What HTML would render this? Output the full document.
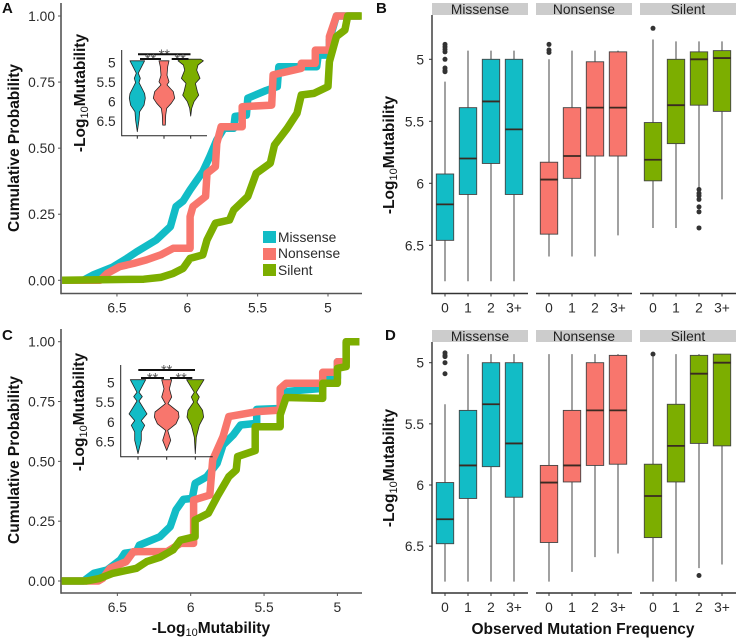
<!DOCTYPE html>
<html lang="en">
<head>
<meta charset="utf-8">
<title>Mutability charts</title>
<style>
html,body{margin:0;padding:0;background:#fff;width:738px;height:639px;overflow:hidden}
svg{display:block;font-family:"Liberation Sans",sans-serif}
.tick{font-size:13.8px;fill:#2b2b2b}
.title{font-size:15.5px;font-weight:bold;fill:#111}
.sub{font-size:11px;font-weight:normal}
.strip{font-size:13.8px;fill:#222;text-anchor:middle}
.plabel{font-size:15px;font-weight:bold;fill:#111}
</style>
</head>
<body>
<svg id="fig" width="738" height="639" viewBox="0 0 738 639" xmlns="http://www.w3.org/2000/svg">
<text class="plabel" x="2" y="13">A</text>
<text class="plabel" x="376" y="13">B</text>
<text class="plabel" x="2" y="340">C</text>
<text class="plabel" x="385" y="340">D</text>

<text class="title" transform="translate(19,148) rotate(-90)" text-anchor="middle">Cumulative Probability</text>
<text class="title" transform="translate(19,460) rotate(-90)" text-anchor="middle">Cumulative Probability</text>
<text class="title" transform="translate(85,93) rotate(-90)" text-anchor="middle">-Log<tspan class="sub" dy="3">10</tspan><tspan dy="-3">Mutability</tspan></text>
<text class="title" transform="translate(84,412) rotate(-90)" text-anchor="middle">-Log<tspan class="sub" dy="3">10</tspan><tspan dy="-3">Mutability</tspan></text>
<text class="title" transform="translate(394,155) rotate(-90)" text-anchor="middle">-Log<tspan class="sub" dy="3">10</tspan><tspan dy="-3">Mutability</tspan></text>
<text class="title" transform="translate(394,468) rotate(-90)" text-anchor="middle">-Log<tspan class="sub" dy="3">10</tspan><tspan dy="-3">Mutability</tspan></text>
<text class="title" x="211" y="633" text-anchor="middle">-Log<tspan class="sub" dy="3">10</tspan><tspan dy="-3">Mutability</tspan></text>
<text class="title" x="583" y="634" text-anchor="middle">Observed Mutation Frequency</text>

<rect x="263" y="231" width="13" height="12" fill="#12BCC6"/>
<rect x="263" y="248" width="13" height="12" fill="#F8766D"/>
<rect x="263" y="264" width="13" height="12" fill="#7CAE00"/>
<text class="tick" x="278" y="242">Missense</text>
<text class="tick" x="278" y="258">Nonsense</text>
<text class="tick" x="278" y="275">Silent</text>
</svg>
<script>
// ---- categorical labels and ticks
var seriesNames = ['Missense', 'Nonsense', 'Silent'];
var boxCategories = ['0', '1', '2', '3+'];
var probTicks = ['0.00', '0.25', '0.50', '0.75', '1.00'];
var mutTicks = ['6.5', '6', '5.5', '5'];
var boxTicks = ['5', '5.5', '6', '6.5'];
var insetTicks = ['5', '5.5', '6', '6.5'];

// ---- Panel A cumulative curves
var aMissenseX = [6.89,6.74,6.67,6.53,6.43,6.36,6.22,6.12,6.08,6.03,5.98,5.89,5.84,5.79,5.74,5.67,5.66,5.58,5.57,5.44,5.36,5.35,5.08,5.07,4.99,4.99,4.94,4.77];
var aMissenseP = [0,0,.02,.05,.083,.108,.153,.203,.279,.30,.342,.411,.468,.531,.575,.575,.62,.625,.689,.718,.733,.808,.808,.852,.852,.909,1,1];
var aNonsenseX = [6.89,6.62,6.57,6.48,6.38,6.29,6.19,6.10,5.98,5.98,5.96,5.87,5.86,5.80,5.79,5.76,5.61,5.61,5.40,5.39,5.19,5.19,5.09,5.09,4.99,4.99,4.94,4.77];
var aNonsenseP = [0,0,.026,.052,.064,.077,.096,.121,.121,.241,.279,.317,.405,.43,.518,.581,.581,.657,.663,.777,.802,.821,.821,.871,.871,.922,1,1];
var aSilentX = [6.89,6.31,6.19,6.10,6.03,5.98,5.89,5.86,5.80,5.70,5.67,5.57,5.51,5.41,5.38,5.29,5.22,5.19,5.10,5.00,4.99,4.94,4.88,4.86,4.76];
var aSilentP = [0,.004,.011,.026,.045,.083,.096,.153,.216,.228,.266,.317,.405,.443,.512,.575,.632,.701,.707,.733,.827,.922,.947,1,1];

// ---- Panel C cumulative curves
var cMissenseX = [6.88,6.73,6.66,6.57,6.48,6.45,6.37,6.35,6.21,6.14,6.10,6.05,5.99,5.97,5.89,5.82,5.78,5.71,5.66,5.55,5.55,5.39,5.37,5.10,5.10,5.00,5.00,4.94,4.94,4.85];
var cMissenseP = [0,0,.032,.046,.088,.116,.123,.150,.185,.227,.297,.341,.345,.408,.436,.492,.568,.61,.652,.659,.717,.721,.791,.805,.84,.847,.916,.916,1,1];
var cNonsenseX = [6.88,6.63,6.60,6.55,6.44,6.39,6.16,6.07,5.98,5.98,5.87,5.85,5.78,5.74,5.55,5.39,5.39,5.35,5.10,5.10,5.00,5.00,4.94,4.94,4.85];
var cNonsenseP = [0,0,.011,.053,.081,.123,.123,.157,.157,.338,.359,.506,.603,.687,.708,.714,.805,.826,.826,.872,.872,.916,.916,1,1];
var cSilentX = [6.88,6.71,6.62,6.53,6.37,6.30,6.21,6.12,6.07,5.97,5.97,5.88,5.82,5.74,5.69,5.68,5.56,5.56,5.39,5.39,5.35,5.10,5.10,5.00,5.00,4.94,4.94,4.85];
var cSilentP = [0,0,.011,.032,.053,.081,.099,.130,.171,.185,.255,.283,.352,.436,.464,.520,.545,.645,.645,.694,.767,.763,.826,.826,.889,.896,1,1];

// ---- Panel A inset violins
var vaMissenseY = [4.95,5.27,5.40,5.51,5.79,5.91,6.09,6.26,6.47,6.77];
var vaMissenseD = [.22,.03,.09,.05,.22,.24,.20,.07,.05,0];
var vaNonsenseY = [4.95,5.10,5.32,5.49,5.57,5.74,5.91,6.04,6.17,6.34,6.60];
var vaNonsenseD = [.15,.11,.09,.15,.09,.28,.32,.22,.08,.05,.04];
var vaSilentY = [4.91,4.95,5.06,5.19,5.40,5.53,5.74,5.83,6.00,6.17,6.37];
var vaSilentD = [.30,.38,.22,.18,.28,.14,.20,.24,.10,.03,0];

// ---- Panel C inset violins
var vcMissenseY = [4.93,5.25,5.36,5.47,5.80,5.97,6.09,6.26,6.47,6.81];
var vcMissenseD = [.23,.03,.13,.03,.27,.10,.20,.10,.10,0];
var vcNonsenseY = [4.93,5.16,5.37,5.54,5.75,5.88,6.05,6.22,6.47,6.73];
var vcNonsenseD = [.15,.08,.15,.04,.35,.37,.28,.03,.12,0];
var vcSilentY = [4.93,5.25,5.37,5.50,5.71,5.88,6.09,6.39,6.81];
var vcSilentD = [.26,.03,.12,.05,.22,.25,.12,.03,0];

// ---- Panel B boxes (one entry per frequency category 0,1,2,3+)
var bMissenseBoxTop = [5.925,5.39,5,5];
var bMissenseMedian = [6.17,5.80,5.34,5.565];
var bMissenseBoxBottom = [6.46,6.09,5.84,6.09];
var bMissenseWhiskerTop = [5.18,4.93,4.93,4.93];
var bMissenseWhiskerBottom = [6.79,6.79,6.79,6.79];
var bMissenseOutliers = [[4.88,4.90,4.92,4.94,5,5.07,5.09,5.10],[],[],[]];
var bNonsenseBoxTop = [5.83,5.39,5.02,4.94];
var bNonsenseMedian = [5.97,5.78,5.39,5.39];
var bNonsenseBoxBottom = [6.41,5.96,5.78,5.78];
var bNonsenseWhiskerTop = [5,4.93,4.93,4.93];
var bNonsenseWhiskerBottom = [6.59,6.59,6.59,6.42];
var bNonsenseOutliers = [[4.88,4.925,4.945],[],[],[]];
var bSilentBoxTop = [5.51,5,4.94,4.93];
var bSilentMedian = [5.81,5.37,5,4.99];
var bSilentBoxBottom = [5.98,5.68,5.37,5.42];
var bSilentWhiskerTop = [4.84,4.855,4.855,4.855];
var bSilentWhiskerBottom = [6.36,6.36,6.04,6.13];
var bSilentOutliers = [[4.75],[],[6.05,6.08,6.10,6.13,6.19,6.23,6.36],[]];

// ---- Panel D boxes
var dMissenseBoxTop = [5.98,5.39,5,5];
var dMissenseMedian = [6.28,5.84,5.34,5.66];
var dMissenseBoxBottom = [6.48,6.11,5.85,6.10];
var dMissenseWhiskerTop = [5.34,4.93,4.93,4.93];
var dMissenseWhiskerBottom = [6.79,6.79,6.79,6.79];
var dMissenseOutliers = [[4.92,4.94,4.95,5,5.09],[],[],[]];
var dNonsenseBoxTop = [5.84,5.39,5,4.94];
var dNonsenseMedian = [5.98,5.84,5.39,5.39];
var dNonsenseBoxBottom = [6.47,5.975,5.84,5.83];
var dNonsenseWhiskerTop = [4.93,4.93,4.93,4.93];
var dNonsenseWhiskerBottom = [6.79,6.71,6.59,6.56];
var dNonsenseOutliers = [[],[],[],[]];
var dSilentBoxTop = [5.83,5.34,4.94,4.93];
var dSilentMedian = [6.09,5.68,5.09,5];
var dSilentBoxBottom = [6.43,5.975,5.66,5.68];
var dSilentWhiskerTop = [4.95,4.93,4.93,4.93];
var dSilentWhiskerBottom = [6.79,6.79,6.68,6.65];
var dSilentOutliers = [[4.93],[],[6.74],[]];

var COLORS = ['#12BCC6', '#F8766D', '#7CAE00'];
var AXIS = '#555555';
var svg = document.getElementById('fig');
var NS = 'http://www.w3.org/2000/svg';

function mk(tag, props, text) {
  var el = document.createElementNS(NS, tag);
  for (var k in props) el.setAttribute(k, props[k]);
  if (text !== undefined) el.textContent = text;
  svg.appendChild(el);
  return el;
}
function line(x1, y1, x2, y2, color, w, name) {
  var el = mk('line', {x1: x1, y1: y1, x2: x2, y2: y2, stroke: color, 'stroke-width': w});
  
  
  return el;
}
function label(x, y, anchor, str, name) {
  var el = mk('text', {x: x, y: y, 'text-anchor': anchor, 'class': 'tick'}, str);
  
  
  return el;
}

function drawEcdf(cfg) {
  var xs = function (v) { return cfg.x6 - (v - 6) * cfg.xUnit; };
  var ys = function (p) { return cfg.y0 - p * (cfg.y0 - cfg.y1); };
  line(cfg.left, cfg.top, cfg.left, cfg.bottom + 0.75, AXIS, 1.6, cfg.id + '-y-axis-line');
  line(cfg.left, cfg.bottom, cfg.right, cfg.bottom, AXIS, 1.6, cfg.id + '-x-axis-line');
  probTicks.forEach(function (t) {
    var y = ys(parseFloat(t));
    line(cfg.left - 3, y, cfg.left, y, AXIS, 1, cfg.id + '-y-tick-mark');
    label(cfg.left - 6, y + 5, 'end', t, cfg.id + '-y-tick-label');
  });
  mutTicks.forEach(function (t) {
    var x = xs(parseFloat(t));
    line(x, cfg.bottom, x, cfg.bottom + 3, AXIS, 1, cfg.id + '-x-tick-mark');
    label(x, cfg.bottom + 19, 'middle', t, cfg.id + '-x-tick-label');
  });
  cfg.series.forEach(function (s, i) {
    var pts = s[0].map(function (v, j) { return xs(v).toFixed(1) + ',' + ys(s[1][j]).toFixed(1); }).join(' ');
    var el = mk('polyline', {points: pts, fill: 'none', stroke: COLORS[i], 'stroke-width': 7.5, 'stroke-linejoin': 'round'});
    
    
  });
}

function drawViolins(cfg) {
  var ys = function (v) { return cfg.y5 + (v - 5) * cfg.yUnit; };
  line(cfg.left, cfg.top, cfg.left, cfg.bottom + 0.5, '#222', 1, cfg.id + '-y-axis-line');
  line(cfg.left, cfg.bottom, cfg.right, cfg.bottom, '#222', 1, cfg.id + '-x-axis-line');
  insetTicks.forEach(function (t) {
    label(cfg.left - 6, ys(parseFloat(t)) + 5, 'end', t, cfg.id + '-y-tick-label');
  });
  cfg.series.forEach(function (s, i) {
    var cx = cfg.centers[i];
    line(cx, cfg.bottom, cx, cfg.bottom + 3, '#222', 1, cfg.id + '-x-tick-mark');
    var right = s[0].map(function (v, j) { return (cx + s[1][j] * 33.3).toFixed(1) + ',' + ys(v).toFixed(1); });
    var left = s[0].map(function (v, j) { return (cx - s[1][j] * 33.3).toFixed(1) + ',' + ys(v).toFixed(1); }).reverse();
    var el = mk('polygon', {points: right.concat(left).join(' '), fill: COLORS[i], stroke: '#222', 'stroke-width': 0.8, 'stroke-linejoin': 'round'});
    
    
  });
  cfg.bars.forEach(function (b, i) {
    var st = mk('text', {x: (b[0] + b[1]) / 2, y: b[2] + 5, 'text-anchor': 'middle', 'font-size': 14.5, fill: '#555'}, '**');
    
    
    line(b[0], b[2], b[1], b[2], '#111', 2, cfg.id + '-significance-bar-' + i);
  });
}

function drawBoxes(cfg) {
  var ys = function (v) { return cfg.y5 + (v - 5) * cfg.yUnit; };
  var half = 8.7;
  line(432, cfg.stripBottom, 432, cfg.bottom + 0.75, '#333', 1.4, cfg.id + '-y-axis-line');
  boxTicks.forEach(function (t) {
    var y = ys(parseFloat(t));
    line(429, y, 432, y, '#333', 1, cfg.id + '-y-tick-mark');
    label(424, y + 5, 'end', t, cfg.id + '-y-tick-label');
  });
  cfg.facets.forEach(function (f, i) {
    var nm = seriesNames[i].toLowerCase();
    var sx = cfg.stripX[i];
    var strip = mk('rect', {x: sx, y: cfg.stripTop, width: 96, height: cfg.stripBottom - cfg.stripTop, fill: '#CCCCCC'});
    
    
    var stripText = mk('text', {x: sx + 48, y: cfg.stripBottom - 1, 'class': 'strip'}, seriesNames[i]);
    
    
    line(sx, cfg.bottom, sx + 96, cfg.bottom, '#333', 1.4, cfg.id + '-x-axis-line-' + nm);
    boxCategories.forEach(function (c, j) {
      var cx = sx + 13 + j * 23;
      line(cx, cfg.bottom, cx, cfg.bottom + 3, '#333', 1, cfg.id + '-x-tick-mark');
      label(cx, cfg.bottom + 19, 'middle', c, cfg.id + '-x-tick-label');
      line(cx, ys(f.whiskerTop[j]), cx, ys(f.whiskerBottom[j]), '#555', 1.1, cfg.id + '-whisker-' + nm + '-' + j);
      var box = mk('rect', {x: cx - half, y: ys(f.boxTop[j]), width: half * 2, height: ys(f.boxBottom[j]) - ys(f.boxTop[j]), fill: COLORS[i], stroke: '#444', 'stroke-width': 0.9});
      
      
      line(cx - half, ys(f.median[j]), cx + half, ys(f.median[j]), '#3a2a22', 1.8, cfg.id + '-median-' + nm + '-' + j);
      f.outliers[j].forEach(function (o) {
        var pt = mk('circle', {cx: cx, cy: ys(o), r: 2.5, fill: '#333'});
        
        
      });
    });
  });
}

drawEcdf({id: 'panel-a', left: 61, right: 362, top: 3, bottom: 293.5, x6: 187.3, xUnit: 140.7, y0: 280.3, y1: 16,
  series: [[aMissenseX, aMissenseP], [aNonsenseX, aNonsenseP], [aSilentX, aSilentP]]});
drawEcdf({id: 'panel-c', left: 61, right: 362, top: 329, bottom: 593, x6: 190.7, xUnit: 146.7, y0: 581, y1: 341.7,
  series: [[cMissenseX, cMissenseP], [cNonsenseX, cNonsenseP], [cSilentX, cSilentP]]});

drawViolins({id: 'inset-a', left: 121.7, right: 207, top: 50, bottom: 135.7, y5: 62.7, yUnit: 39, centers: [137.3, 164, 190.7],
  series: [[vaMissenseY, vaMissenseD], [vaNonsenseY, vaNonsenseD], [vaSilentY, vaSilentD]],
  bars: [[138, 190.5, 54.3], [140, 161, 59], [171.7, 188.5, 59]]});
drawViolins({id: 'inset-c', left: 120.7, right: 212.7, top: 365, bottom: 456.7, y5: 382.5, yUnit: 39.3, centers: [138, 166.7, 195.3],
  series: [[vcMissenseY, vcMissenseD], [vcNonsenseY, vcNonsenseD], [vcSilentY, vcSilentD]],
  bars: [[138.3, 195, 370], [141, 164, 378], [170, 192.3, 378]]});

drawBoxes({id: 'panel-b', y5: 59.3, yUnit: 124, bottom: 293.5, stripTop: 3, stripBottom: 15, stripX: [432, 536, 640],
  facets: [
    {boxTop: bMissenseBoxTop, median: bMissenseMedian, boxBottom: bMissenseBoxBottom, whiskerTop: bMissenseWhiskerTop, whiskerBottom: bMissenseWhiskerBottom, outliers: bMissenseOutliers},
    {boxTop: bNonsenseBoxTop, median: bNonsenseMedian, boxBottom: bNonsenseBoxBottom, whiskerTop: bNonsenseWhiskerTop, whiskerBottom: bNonsenseWhiskerBottom, outliers: bNonsenseOutliers},
    {boxTop: bSilentBoxTop, median: bSilentMedian, boxBottom: bSilentBoxBottom, whiskerTop: bSilentWhiskerTop, whiskerBottom: bSilentWhiskerBottom, outliers: bSilentOutliers}
  ]});
drawBoxes({id: 'panel-d', y5: 362.7, yUnit: 122.3, bottom: 593, stripTop: 330, stripBottom: 342, stripX: [432, 536, 640],
  facets: [
    {boxTop: dMissenseBoxTop, median: dMissenseMedian, boxBottom: dMissenseBoxBottom, whiskerTop: dMissenseWhiskerTop, whiskerBottom: dMissenseWhiskerBottom, outliers: dMissenseOutliers},
    {boxTop: dNonsenseBoxTop, median: dNonsenseMedian, boxBottom: dNonsenseBoxBottom, whiskerTop: dNonsenseWhiskerTop, whiskerBottom: dNonsenseWhiskerBottom, outliers: dNonsenseOutliers},
    {boxTop: dSilentBoxTop, median: dSilentMedian, boxBottom: dSilentBoxBottom, whiskerTop: dSilentWhiskerTop, whiskerBottom: dSilentWhiskerBottom, outliers: dSilentOutliers}
  ]});
</script>
</body>
</html>
